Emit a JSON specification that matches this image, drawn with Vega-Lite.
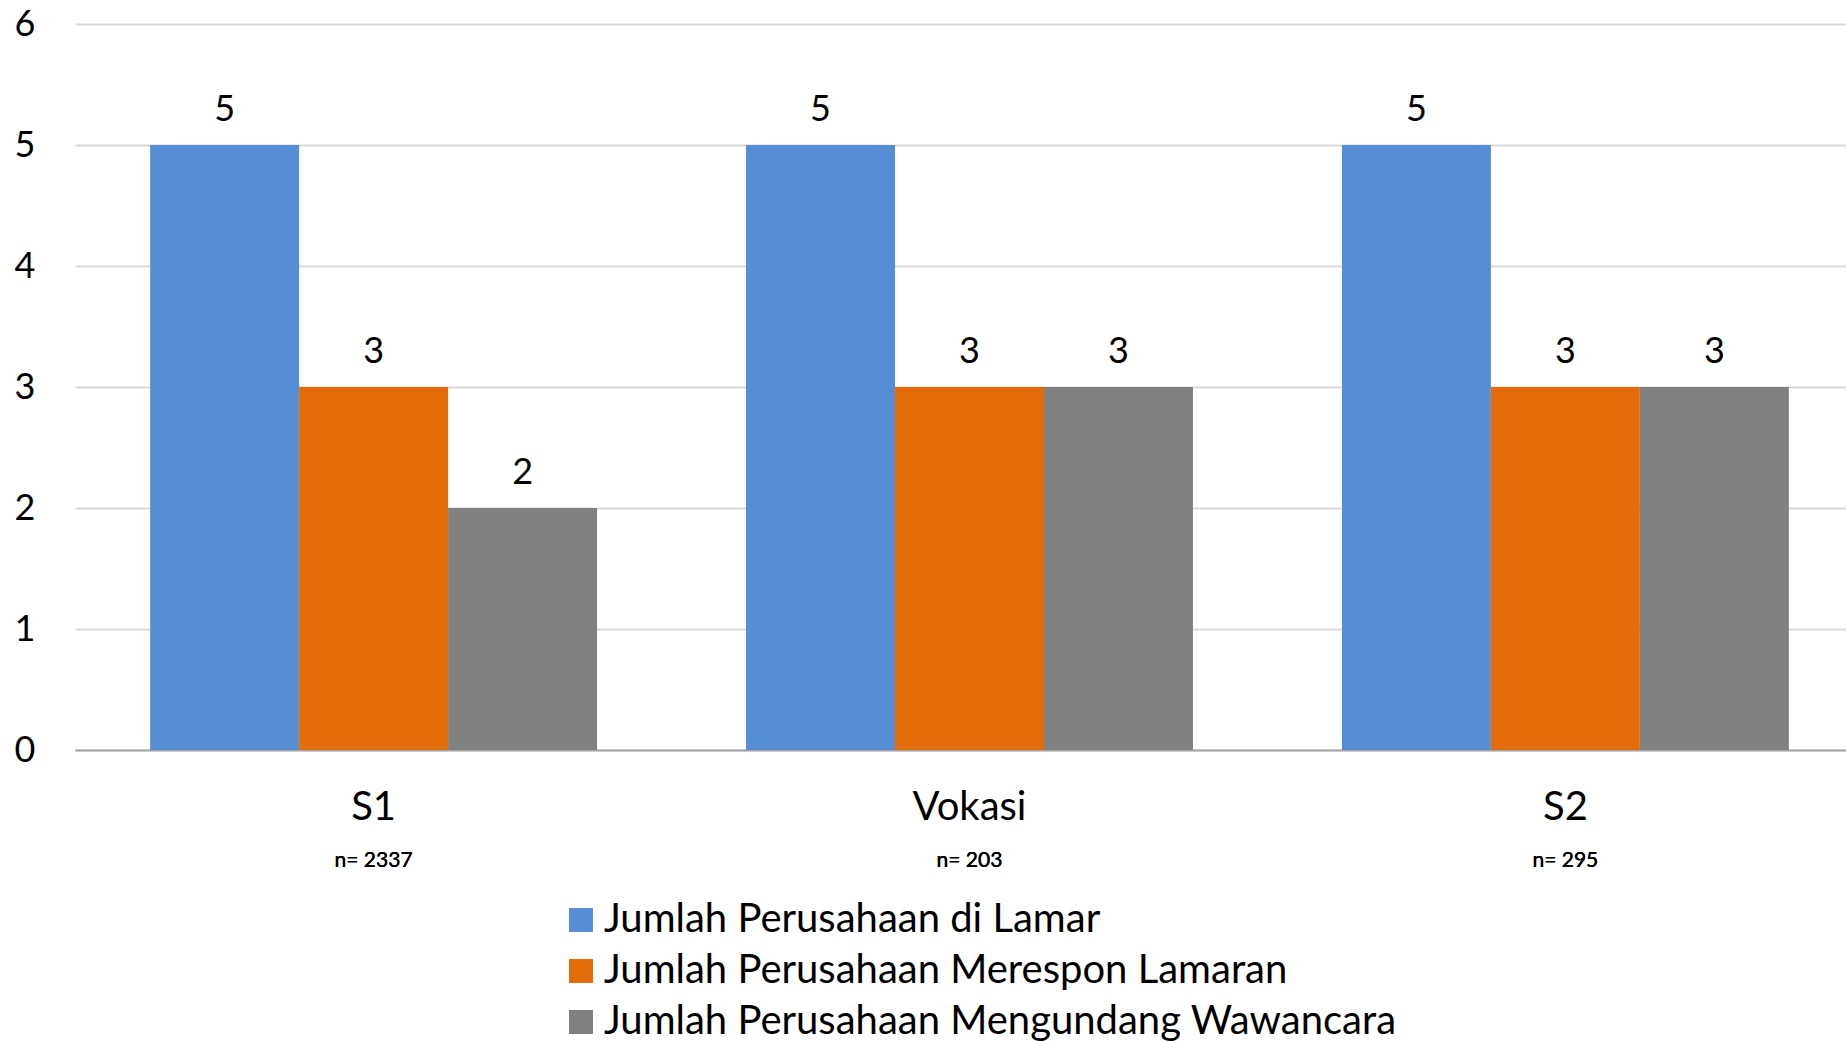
{
  "$schema": "https://vega.github.io/schema/vega-lite/v6.json",
  "width": 1771,
  "height": 726,
  "autosize": {"type": "none"},
  "padding": {"left": 75, "top": 24, "right": 0, "bottom": 291},
  "background": "white",
  "config": {"font": "Lato", "view": {"stroke": null}},
  "data": {"values": [
    {"kategori": "S1", "n": "n= 2337", "seri": "Jumlah Perusahaan di Lamar", "nilai": 5},
    {"kategori": "S1", "n": "n= 2337", "seri": "Jumlah Perusahaan Merespon Lamaran", "nilai": 3},
    {"kategori": "S1", "n": "n= 2337", "seri": "Jumlah Perusahaan Mengundang Wawancara", "nilai": 2},
    {"kategori": "Vokasi", "n": "n= 203", "seri": "Jumlah Perusahaan di Lamar", "nilai": 5},
    {"kategori": "Vokasi", "n": "n= 203", "seri": "Jumlah Perusahaan Merespon Lamaran", "nilai": 3},
    {"kategori": "Vokasi", "n": "n= 203", "seri": "Jumlah Perusahaan Mengundang Wawancara", "nilai": 3},
    {"kategori": "S2", "n": "n= 295", "seri": "Jumlah Perusahaan di Lamar", "nilai": 5},
    {"kategori": "S2", "n": "n= 295", "seri": "Jumlah Perusahaan Merespon Lamaran", "nilai": 3},
    {"kategori": "S2", "n": "n= 295", "seri": "Jumlah Perusahaan Mengundang Wawancara", "nilai": 3}
  ]},
  "encoding": {
    "x": {
      "field": "kategori", "type": "nominal", "sort": ["S1", "Vokasi", "S2"],
      "scale": {"paddingInner": 0.25, "paddingOuter": 0.111, "align": 0.568},
      "axis": {"title": null, "labelAngle": 0, "labelFontSize": 40, "labelColor": "#000000",
               "labelBaseline": "middle", "labelPadding": 57, "ticks": false, "tickSize": 0,
               "domainColor": "#a6a6a6", "domainWidth": 2, "grid": false}
    }
  },
  "layer": [
    {
      "mark": {"type": "bar"},
      "encoding": {
        "xOffset": {"field": "seri", "type": "nominal",
                    "sort": ["Jumlah Perusahaan di Lamar", "Jumlah Perusahaan Merespon Lamaran", "Jumlah Perusahaan Mengundang Wawancara"],
                    "scale": {"paddingInner": 0, "paddingOuter": 0}},
        "y": {"field": "nilai", "type": "quantitative",
              "scale": {"domain": [0, 6], "nice": false},
              "axis": {"title": null, "values": [0,1,2,3,4,5,6], "labelFontSize": 36, "labelColor": "#000000",
                       "labelPadding": 40, "ticks": false, "domain": false, "labelOverlap": false,
                       "gridColor": "#d9d9d9", "gridWidth": 2}},
        "color": {"field": "seri", "type": "nominal",
                  "sort": ["Jumlah Perusahaan di Lamar", "Jumlah Perusahaan Merespon Lamaran", "Jumlah Perusahaan Mengundang Wawancara"],
                  "scale": {"domain": ["Jumlah Perusahaan di Lamar", "Jumlah Perusahaan Merespon Lamaran", "Jumlah Perusahaan Mengundang Wawancara"],
                            "range": ["#558ed5", "#e36c0a", "#808080"]},
                  "legend": {"title": null, "orient": "none", "legendX": 486, "legendY": 876,
                             "direction": "vertical", "symbolType": "square", "symbolSize": 576,
                             "symbolStrokeWidth": 0, "labelFontSize": 40, "labelColor": "#000000",
                             "labelOffset": 3, "rowPadding": 11, "labelLimit": 1000}}
      }
    },
    {
      "mark": {"type": "text", "fontSize": 36, "dy": -35, "baseline": "middle", "color": "#000000"},
      "encoding": {
        "xOffset": {"field": "seri", "type": "nominal",
                    "sort": ["Jumlah Perusahaan di Lamar", "Jumlah Perusahaan Merespon Lamaran", "Jumlah Perusahaan Mengundang Wawancara"]},
        "y": {"field": "nilai", "type": "quantitative",
              "axis": {"title": null, "values": [0,1,2,3,4,5,6], "labelFontSize": 36, "labelColor": "#000000",
                       "labelPadding": 40, "ticks": false, "domain": false, "labelOverlap": false,
                       "gridColor": "#d9d9d9", "gridWidth": 2}},
        "text": {"field": "nilai", "type": "quantitative"}
      }
    },
    {
      "mark": {"type": "text", "fontSize": 21, "dy": 111, "baseline": "middle", "color": "#000000"},
      "encoding": {
        "y": {"datum": 0, "type": "quantitative",
              "axis": {"title": null, "values": [0,1,2,3,4,5,6], "labelFontSize": 36, "labelColor": "#000000",
                       "labelPadding": 40, "ticks": false, "domain": false, "labelOverlap": false,
                       "gridColor": "#d9d9d9", "gridWidth": 2}},
        "text": {"field": "n", "type": "nominal"}
      }
    }
  ]
}
